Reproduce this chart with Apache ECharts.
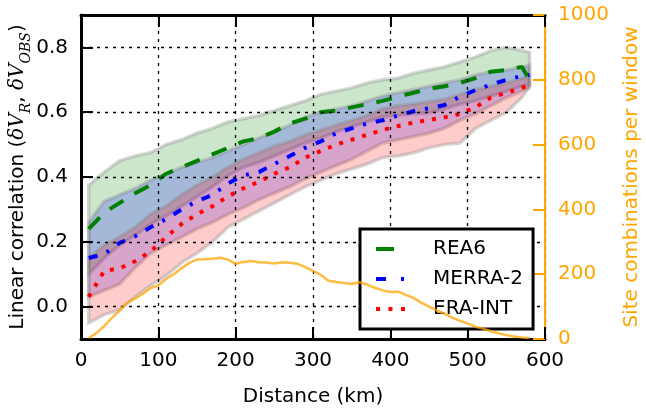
<!DOCTYPE html>
<html>
<head>
<meta charset="utf-8">
<script src="https://cdn.jsdelivr.net/npm/echarts@6/dist/echarts.min.js"></script>
<style>
  html, body { margin: 0; padding: 0; background: #fff; }
  #chart { width: 646px; height: 412px; }
</style>
</head>
<body>
<div id="chart"></div>
<script>
// window centre distance (km) for the correlation curves and their bands
const distance = [10, 30, 50, 70, 90, 110, 130, 150, 170, 190, 210, 230, 250, 270, 290,
    310, 330, 350, 370, 390, 410, 430, 450, 470, 490, 510, 530, 550, 570, 580];

/** REA6 */
const rea6Mean = [0.24, 0.29, 0.32, 0.35, 0.375, 0.41, 0.43, 0.45, 0.47, 0.49, 0.51, 0.52, 0.54, 0.565, 0.58,
    0.60, 0.605, 0.615, 0.625, 0.635, 0.648, 0.66, 0.672, 0.68, 0.69, 0.705, 0.725, 0.73, 0.74, 0.70];
const rea6Hi = [0.375, 0.415, 0.45, 0.465, 0.475, 0.50, 0.515, 0.535, 0.55, 0.57, 0.58, 0.59, 0.605, 0.62, 0.635,
    0.655, 0.665, 0.675, 0.69, 0.70, 0.705, 0.72, 0.73, 0.74, 0.755, 0.77, 0.79, 0.80, 0.79, 0.785];
const rea6Lo = [0.10, 0.15, 0.19, 0.22, 0.255, 0.28, 0.31, 0.34, 0.37, 0.405, 0.43, 0.445, 0.465, 0.485, 0.505,
    0.52, 0.54, 0.555, 0.57, 0.585, 0.59, 0.595, 0.598, 0.61, 0.625, 0.635, 0.65, 0.665, 0.68, 0.685];

/** MERRA-2 */
const merraMean = [0.15, 0.162, 0.197, 0.217, 0.245, 0.27, 0.30, 0.325, 0.345, 0.38, 0.405, 0.415, 0.44, 0.465, 0.49,
    0.51, 0.535, 0.55, 0.565, 0.575, 0.59, 0.603, 0.612, 0.622, 0.648, 0.668, 0.685, 0.70, 0.712, 0.715];
const merraHi = [0.26, 0.325, 0.345, 0.365, 0.39, 0.41, 0.43, 0.445, 0.46, 0.48, 0.50, 0.52, 0.54, 0.56, 0.585,
    0.60, 0.61, 0.62, 0.635, 0.65, 0.66, 0.67, 0.68, 0.69, 0.70, 0.715, 0.725, 0.73, 0.74, 0.745];
const merraLo = [0.03, 0.05, 0.07, 0.12, 0.165, 0.19, 0.215, 0.24, 0.26, 0.285, 0.305, 0.33, 0.35, 0.37, 0.395,
    0.415, 0.435, 0.455, 0.48, 0.505, 0.515, 0.525, 0.535, 0.55, 0.575, 0.595, 0.62, 0.645, 0.665, 0.675];

/** ERA-INT */
const eraMean = [0.03, 0.11, 0.118, 0.14, 0.17, 0.215, 0.255, 0.285, 0.31, 0.34, 0.365, 0.385, 0.41, 0.43, 0.46,
    0.48, 0.50, 0.515, 0.53, 0.545, 0.557, 0.568, 0.576, 0.584, 0.595, 0.615, 0.645, 0.66, 0.675, 0.685];
const eraHi = [0.15, 0.19, 0.215, 0.245, 0.285, 0.31, 0.345, 0.375, 0.40, 0.43, 0.455, 0.475, 0.495, 0.51, 0.53,
    0.545, 0.56, 0.575, 0.59, 0.61, 0.62, 0.625, 0.633, 0.64, 0.655, 0.67, 0.68, 0.69, 0.705, 0.71];
const eraLo = [-0.05, -0.025, -0.01, 0.03, 0.065, 0.095, 0.135, 0.165, 0.20, 0.245, 0.27, 0.295, 0.32, 0.345, 0.37,
    0.39, 0.41, 0.425, 0.44, 0.46, 0.465, 0.475, 0.49, 0.50, 0.505, 0.55, 0.575, 0.60, 0.645, 0.68];

// site combinations per window (right axis), every 10 km
const siteDistance = [10, 20, 30, 40, 50, 60, 70, 80, 90, 100, 110, 120, 130, 140, 150, 160, 170, 180, 190, 200,
    210, 220, 230, 240, 250, 260, 270, 280, 290, 300, 310, 320, 330, 340, 350, 360, 370, 380, 390, 400,
    410, 420, 430, 440, 450, 460, 470, 480, 490, 500, 510, 520, 530, 540, 550, 560, 570, 580];
const siteCount = [3, 18, 40, 65, 88, 112, 125, 140, 157, 165, 185, 200, 218, 235, 245, 246, 248, 251, 245, 232,
    238, 241, 237, 236, 233, 237, 235, 232, 222, 210, 198, 180, 176, 173, 170, 175, 168, 158, 150, 145,
    146, 136, 127, 112, 100, 88, 78, 66, 56, 48, 38, 32, 24, 18, 12, 8, 5, 3];

const leftTicks = [0, 0.2, 0.4, 0.6, 0.8];
const orange = "#FFA500";
const font = "DejaVu Sans";

// shaded spread, drawn as one polygon through the axis scales
function band(lo, hi, fill) {
    return {
        type: "custom",
        silent: true,
        z: 1,
        data: distance.map((d, i) => [d, lo[i], hi[i]]),
        encode: { x: 0, y: [1, 2] },
        renderItem: (params, api) => {
            if (params.dataIndex !== 0) return null;
            const top = distance.map((d, i) => api.coord([d, hi[i]]));
            const bottom = distance.map((d, i) => api.coord([d, lo[i]])).reverse();
            return {
                type: "polygon",
                shape: { points: top.concat(bottom) },
                style: { fill: fill, stroke: "rgba(128,128,128,0.32)", lineWidth: 3.5 },
            };
        },
    };
}

function meanLine(name, values, color, dash) {
    return {
        name: name,
        type: "line",
        data: distance.map((d, i) => [d, values[i]]),
        symbol: "none",
        z: 2,
        itemStyle: { color: color },
        lineStyle: { color: color, width: 4, type: dash, cap: "butt" },
    };
}

const option = {
    animation: false,
    grid: { left: 81, right: 101, top: 15, bottom: 73, outerBoundsMode: "none" },
    legend: {
        // legend samples use the handle-length dash patterns
        data: [
            { name: "REA6", lineStyle: { type: [18, 20] } },
            { name: "MERRA-2", lineStyle: { type: [10, 15, 3, 15] } },
            { name: "ERA-INT", lineStyle: { type: [4, 8.5] } },
        ],
        orient: "vertical",
        left: 360,
        top: 229,
        padding: [10, 10, 10, 14],
        itemWidth: 30,
        itemHeight: 14,
        itemGap: 10,
        backgroundColor: "#fff",
        borderColor: "#000",
        borderWidth: 3,
        borderRadius: 0,
        z: 4,
        itemStyle: { opacity: 0 },
        lineStyle: { width: 4 },
        textStyle: { fontFamily: font, fontSize: 20, color: "#000", padding: [0, 0, 0, 22] },
    },
    xAxis: [
        {
            type: "value",
            min: 0,
            max: 600,
            interval: 100,
            position: "bottom",
            z: 3,
            name: "Distance (km)",
            nameLocation: "middle",
            nameGap: 48,
            nameMoveOverlap: false,
            nameTextStyle: { fontFamily: font, fontSize: 20, color: "#000" },
            axisLine: { onZero: false, lineStyle: { color: "#000", width: 3 } },
            axisTick: { inside: true, length: 12, lineStyle: { color: "#000", width: 2 } },
            axisLabel: { color: "#000", fontFamily: font, fontSize: 20, margin: 12 },
            splitLine: { show: true, lineStyle: { color: "#000", width: 1.3, type: [3, 5] } },
        },
        {
            type: "value",
            min: 0,
            max: 600,
            interval: 100,
            position: "top",
            z: 3,
            axisLine: { onZero: false, lineStyle: { color: "#000", width: 3 } },
            axisTick: { inside: true, length: 12, lineStyle: { color: "#000", width: 2 } },
            axisLabel: { show: false },
            splitLine: { show: false },
        },
    ],
    yAxis: [
        {
            type: "value",
            min: -0.1,
            max: 0.9,
            position: "left",
            z: 3,
            name: "{n|Linear correlation (}{m|δV}{s|R}{n|, }{m|δV}{s|OBS}{n|)}",
            nameLocation: "middle",
            nameRotate: 90,
            nameGap: 51,
            nameMoveOverlap: false,
            nameTextStyle: {
                rich: {
                    n: { fontFamily: font, fontSize: 20, color: "#000", lineHeight: 22, verticalAlign: "top" },
                    m: { fontFamily: "DejaVu Serif", fontStyle: "italic", fontSize: 20, color: "#000", lineHeight: 22, verticalAlign: "top" },
                    s: { fontFamily: "DejaVu Serif", fontStyle: "italic", fontSize: 14, color: "#000", lineHeight: 14, padding: [11, 0, 0, 0], verticalAlign: "top" },
                },
            },
            axisLine: { show: true, onZero: false, lineStyle: { color: "#000", width: 3 } },
            axisTick: { show: true, inside: true, length: 12, customValues: leftTicks, lineStyle: { color: "#000", width: 2 } },
            axisLabel: {
                customValues: leftTicks,
                color: "#000",
                fontFamily: font,
                fontSize: 20,
                margin: 13,
                formatter: (v) => v.toFixed(1),
            },
            splitLine: { show: true, lineStyle: { color: "#000", width: 1.3, type: [3, 5] } },
        },
        {
            type: "value",
            min: 0,
            max: 1000,
            interval: 200,
            position: "right",
            z: 3,
            name: "Site combinations per window",
            nameLocation: "middle",
            nameRotate: 90,
            nameGap: 77,
            nameMoveOverlap: false,
            nameTextStyle: { fontFamily: font, fontSize: 20, color: orange },
            axisLine: { show: true, onZero: false, lineStyle: { color: orange, width: 2 } },
            axisTick: { show: true, inside: true, length: 12, lineStyle: { color: orange, width: 2 } },
            axisLabel: { color: orange, fontFamily: font, fontSize: 20, margin: 13, formatter: (v) => String(v) },
            splitLine: { show: false },
        },
    ],
    series: [
        band(rea6Lo, rea6Hi, "rgba(0,128,0,0.2)"),
        band(merraLo, merraHi, "rgba(0,0,255,0.2)"),
        band(eraLo, eraHi, "rgba(255,0,0,0.2)"),
        meanLine("REA6", rea6Mean, "#008000", [16, 13]),
        meanLine("MERRA-2", merraMean, "#0000ff", [9, 10, 3, 10]),
        meanLine("ERA-INT", eraMean, "#ff0000", [4, 8]),
        {
            name: "Site combinations",
            type: "line",
            yAxisIndex: 1,
            data: siteDistance.map((d, i) => [d, siteCount[i]]),
            symbol: "none",
            z: 10,
            lineStyle: { color: orange, width: 2.5, opacity: 0.75 },
        },
    ],
};

const chart = echarts.init(document.getElementById("chart"));
chart.setOption(option);
</script>
</body>
</html>
